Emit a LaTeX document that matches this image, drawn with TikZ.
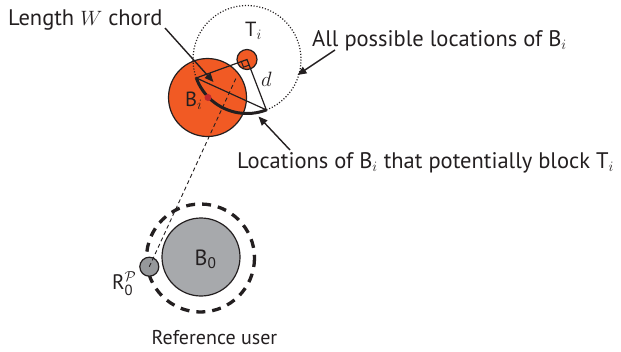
\documentclass[tikz,border=0pt]{standalone}
\usepackage{amsmath}
\usepackage{fontspec}
\setmainfont{PT Sans}
\usetikzlibrary{arrows.meta,calc}
\definecolor{borange}{RGB}{241,90,36}
\definecolor{reddot}{RGB}{193,39,45}
\definecolor{bgray}{RGB}{167,169,172}
\definecolor{rgray}{RGB}{150,152,155}
\definecolor{ink}{RGB}{35,31,32}
\begin{document}
\begin{tikzpicture}[x=1pt,y=-1pt,
  font=\fontsize{19.5}{23}\selectfont,
  lbl/.style={anchor=base west, inner sep=0pt, text=ink},
  big/.style={font=\fontsize{22.5}{26}\selectfont},
  disc/.style={circle, draw=ink, line width=1.2pt, inner sep=0pt},
  arr/.style={draw=ink, line width=1.4pt, -{Triangle[length=9pt,width=7.5pt]}},
  thin/.style={draw=ink, line width=1.2pt},
  ]
\useasboundingbox (0,0) rectangle (621,351);
% upper cluster
\node[disc, fill=borange, minimum size=78pt] (Bi) at (207.5,97.5) {};
\node[disc, fill=borange, minimum size=20pt] (T) at (247,59.5) {};
\draw[ink, line width=1.2pt, dash pattern=on 1.1pt off 1.8pt] (T.center) circle[radius=54];
\coordinate (L) at ($(T.center)+(160:54)$);
\coordinate (M) at ($(T.center)+(69:54)$);
\draw[thin] (L) -- (T.center) -- (M) -- cycle;
\draw[ink, line width=1pt] ($(T.center)+(160:6)$) -- ($(T.center)+(160:6)+(69:6)$) -- ($(T.center)+(69:6)$);
\draw[ink, line width=3pt] (L) arc[start angle=160, end angle=69, radius=54];
\node[circle, fill=reddot, minimum size=7pt, inner sep=0pt] (dot) at (208,97.5) {};
% lower cluster
\draw[ink, line width=3.3pt, dash pattern=on 9pt off 7pt] (200.5,258) circle[radius=54];
\node[disc, fill=bgray, minimum size=78pt] (B0) at (201,257) {};
\node[disc, fill=rgray, minimum size=19pt] (R0) at (149.3,266.7) {};
\coordinate (E) at (237,76);
\draw[ink, line width=0.9pt, dash pattern=on 4pt off 3pt] (R0.center) -- (E);
% labels
\node[lbl, big] (lW) at (8,25) {Length $W$ chord};
\node[lbl, font=\fontsize{20.5}{24}\selectfont] (lT) at (245,36) {T$_i$};
\node[lbl, big] (lAll) at (312,46) {All possible locations of B$_i$};
\node[lbl] (ld) at (261,86.5) {$d$};
\node[lbl, font=\fontsize{20.5}{24}\selectfont] (lBi) at (185,106.5) {B$_i$};
\node[lbl, big] (lLoc) at (237,168) {Locations of B$_i$ that potentially block T$_i$};
\node[lbl, font=\fontsize{22}{26}\selectfont] (lB0) at (194.5,265) {B\textsubscript{0}};
\node[lbl, font=\fontsize{21}{25}\selectfont] (lR0) at (112,289) {R$^{\mathcal{P}}_{\text{0}}$};
\node[lbl, font=\fontsize{20}{24}\selectfont] (lRef) at (151.5,344) {Reference user};
% arrows
\coordinate (wA) at (165,28);
\coordinate (wB) at (213.5,82);
\draw[arr] (wA) -- (wB);
\coordinate (aA) at (335,50);
\coordinate (aB) at (297.5,75);
\draw[arr] (aA) -- (aB);
\coordinate (cA) at (290,150);
\coordinate (cB) at (258.5,116.5);
\draw[arr] (cA) -- (cB);
\end{tikzpicture}
\end{document}
